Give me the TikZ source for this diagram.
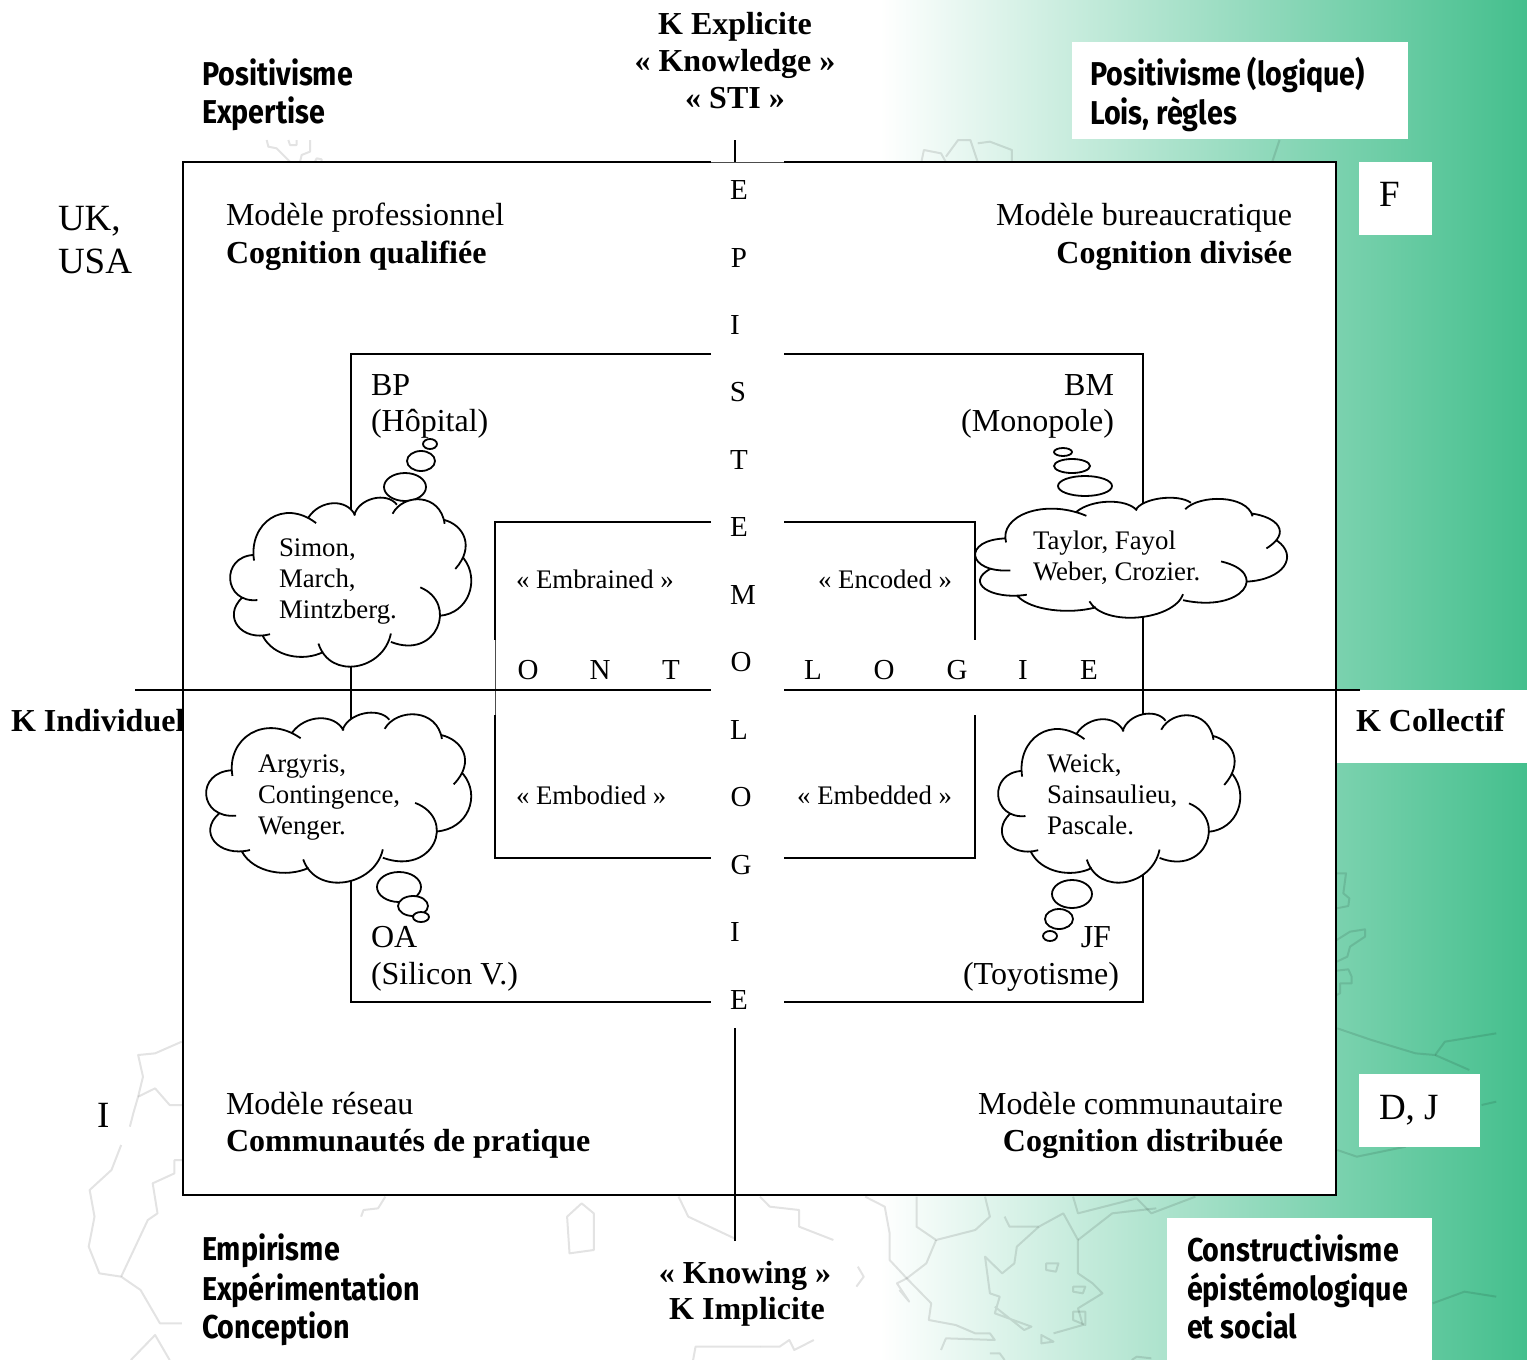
\documentclass[tikz,border=0pt]{standalone}
\usepackage{fontspec}
\setmainfont{Liberation Serif}
\newfontfamily\condfont[FakeStretch=0.87]{Fira Sans}
\definecolor{gfin}{RGB}{68,191,141}
\tikzset{
  x=1pt,y=-1pt,
  lbl/.style={inner sep=0pt,outer sep=0pt,anchor=base west,text=black},
  lblr/.style={lbl,anchor=base east},
  lblc/.style={lbl,anchor=base},
  big/.style={font=\fontsize{32}{36}\selectfont},
  bigb/.style={font=\fontsize{32}{36}\selectfont\bfseries},
  huge/.style={font=\fontsize{37}{40}\selectfont},
  smalltxt/.style={font=\fontsize{26.8}{30}\selectfont},
  sans/.style={font=\fontsize{33}{36}\selectfont\condfont\bfseries},
  lett/.style={lblc,font=\fontsize{29}{32}\selectfont},
  rule/.style={draw=black,line width=2pt},
  thinrule/.style={draw=black!70,line width=1pt},
  maplin/.style={draw=black,opacity=0.11,line width=2pt,line join=round},
  whitebox/.style={fill=white,draw=none},
  bubble/.style={draw=black,fill=white,line width=1.8pt},
}
\newcommand\clouddraw[4]{%
  \begin{scope}[shift={(#1,#2)},xscale=#3/725,yscale=#4/505,shift={(-150,-445)}]
    \fill[white] (222,625) -- (395,505) -- (523,495) -- (640,465) -- (793,516) -- (838,640) -- (778,797) -- (632,870) -- (422,890) -- (258,855) -- (187,745) -- cycle;
    \foreach \fil/\sty in {1/{fill=white},2/{draw=black,line width=1.8pt}}{
    \path[style/.expanded=\sty] (222,632) .. controls (205,520) and (310,445) .. (408,520)
      (385,503) .. controls (420,450) and (500,445) .. (525,497)
      (522,497) .. controls (535,445) and (620,425) .. (650,465)
      (637,492) .. controls (670,430) and (780,430) .. (793,522)
      (790,510) .. controls (850,525) and (885,590) .. (825,657)
      (850,625) .. controls (900,690) and (865,790) .. (778,797)
      (720,712) .. controls (835,760) and (770,930) .. (632,875)
      (632,850) .. controls (610,960) and (450,990) .. (415,880)
      (430,905) .. controls (370,935) and (280,920) .. (248,857)
      (270,852) .. controls (185,875) and (125,800) .. (187,742)
      (232,750) .. controls (130,760) and (120,620) .. (222,615);
    }
  \end{scope}}
\begin{document}
\begin{tikzpicture}
\useasboundingbox (0,0) rectangle (1527,1360);
% background
\shade[left color=white,right color=gfin,shading angle=90] (880,0) rectangle (1527,1360);
% map outlines
\begin{scope}[shift={(0,1000)},xscale=1/2.063,yscale=1/3]
  \draw[maplin] (375,125) -- (320,160) -- (285,165) -- (295,230) -- (285,290) -- (275,340) -- (268,380);
  \draw[maplin] (250,435) -- (230,510) -- (185,570) -- (195,650) -- (183,740) -- (205,820) -- (250,830) -- (290,870) -- (330,970) -- (375,970);
  \draw[maplin] (285,290) -- (320,265) -- (350,315) -- (375,315);
  \draw[maplin] (375,480) -- (360,480) -- (360,520) -- (315,550) -- (325,640) -- (305,660) -- (250,830);
  \draw[maplin] (270,1080) -- (320,1005) -- (350,1080);
  \draw[maplin] (795,590) -- (780,625) -- (750,630) -- (745,650);
  \draw[maplin] (1170,650) -- (1200,610) -- (1225,640) -- (1225,750) -- (1175,760) -- cycle;
  \draw[maplin] (1400,590) -- (1420,650) -- (1515,715);
  \draw[maplin] (1430,1080) -- (1435,1040) -- (1568,1040);
\end{scope}
\begin{scope}[shift={(760,1000)},xscale=1/2.044,yscale=1/3]
  \draw[maplin] (0,590) -- (20,620) -- (80,630) -- (80,680) -- (150,720);
  \draw[maplin] (200,800) -- (212,830) -- (197,860);
  \draw[maplin] (0,1040) -- (40,1040) -- (60,1020) -- (70,1050) -- (110,1020);
  \draw[maplin] (215,590) -- (255,620) -- (265,700) -- (265,780) -- (300,835) -- (350,910) -- (345,960) -- (400,975) -- (440,1000) -- (470,1000) -- (480,1020) -- (380,1015) -- (370,1050);
  \draw[maplin] (320,590) -- (320,680) -- (360,720) -- (440,690) -- (470,650) -- (460,590);
  \draw[maplin] (360,720) -- (340,790) -- (300,835) -- (280,850) -- (305,905) -- (285,870);
  \draw[maplin] (500,650) -- (510,680) -- (570,680) -- (620,640) -- (650,720) -- (650,820) -- (680,850) -- (700,880) -- (650,925) -- (660,975) -- (600,1000);
  \draw[maplin] (640,590) -- (650,640) -- (770,595) -- (800,640) -- (890,590);
  \draw[maplin] (650,720) -- (720,640) -- (810,625);
  \draw[maplin] (570,680) -- (525,740) -- (520,790) -- (495,820) -- (460,770) -- (470,880) -- (490,890) -- (480,940) -- (555,980) -- (540,990) -- (480,920);
  \draw[maplin] (585,790) -- (610,790) -- (605,815) -- (585,810) -- cycle;
  \draw[maplin] (640,860) -- (665,860) -- (660,880) -- (640,875) -- cycle;
  \draw[maplin] (640,935) -- (665,935) -- (665,975) -- (640,960) -- cycle;
  \draw[maplin] (575,1005) -- (600,1025) -- (575,1030) -- cycle;
  \draw[maplin] (470,1060) -- (490,1060) -- (500,1080);
  \draw[maplin] (760,1080) -- (770,1070) -- (800,1075);
  \draw[maplin] (1180,85) -- (1250,120) -- (1340,160) -- (1380,165) -- (1400,125) -- (1505,100);
  \draw[maplin] (1380,165) -- (1450,210);
  \draw[maplin] (1180,450) -- (1220,470) -- (1320,440);
  \draw[maplin] (1375,910) -- (1440,875) -- (1505,890);
  \draw[maplin] (1475,315) -- (1505,305);
\end{scope}
\begin{scope}[shift={(1330,760)},xscale=1/3,yscale=1/3]
  \draw[maplin] (20,340) -- (48,340) -- (40,400) -- (58,415) -- (55,438) -- (20,445);
  \draw[maplin] (20,540) -- (60,515) -- (105,508) -- (105,530) -- (60,560) -- (52,590) -- (20,605);
  \draw[maplin] (20,632) -- (55,628) -- (65,650) -- (65,670) -- (30,670) -- (30,700) -- (20,705);
\end{scope}
\begin{scope}[shift={(760,0)},xscale=1/2.044,yscale=1/3]
  \draw[maplin] (330,486) -- (335,450) -- (370,460) -- (380,486);
  \draw[maplin] (380,470) -- (405,420) -- (430,420) -- (445,486);
  \draw[maplin] (445,430) -- (470,425) -- (515,450) -- (515,486);
  \draw[maplin] (1047,486) -- (1062,420);
\end{scope}
\begin{scope}[shift={(240,130)},xscale=1/3,yscale=1/3]
  \draw[maplin] (80,30) -- (85,50) -- (110,55) -- (130,75) -- (150,95);
  \draw[maplin] (145,30) -- (150,45) -- (170,45) -- (170,30);
  \draw[maplin] (210,30) -- (210,65) -- (185,75) -- (180,95);
  \draw[maplin] (225,95) -- (230,85) -- (245,88) -- (245,95);
\end{scope}
% white boxes
\fill[white] (183,162) rectangle (1336,1195);
\fill[whitebox] (1072,42) rectangle (1408,139);
\fill[whitebox] (1359,162) rectangle (1432,235);
\fill[whitebox] (1337,690) rectangle (1527,763);
\fill[whitebox] (1359,1074) rectangle (1480,1147);
\fill[whitebox] (1167,1218) rectangle (1432,1360);
% frames
\draw[rule] (711,162) -- (183,162) -- (183,1195) -- (1336,1195) -- (1336,162) -- (784,162);
\draw[thinrule] (711,162) -- (784,162);
\draw[rule] (711,354) -- (351,354) -- (351,1002) -- (711,1002);
\draw[rule] (784,354) -- (1143,354) -- (1143,1002) -- (784,1002);
\draw[rule] (711,522) -- (495,522) -- (495,640);
\draw[thinrule] (495,640) -- (495,715);
\draw[rule] (495,715) -- (495,858) -- (711,858);
\draw[rule] (784,522) -- (975,522) -- (975,640);
\draw[rule] (975,715) -- (975,858) -- (784,858);
% axes
\coordinate (axT) at (735,140);
\coordinate (axTe) at (735,162);
\coordinate (axB) at (735,1241);
\coordinate (axBe) at (735,1028);
\coordinate (axL) at (135,690);
\coordinate (axLe) at (711,690);
\coordinate (axR) at (1360,690);
\coordinate (axRe) at (784,690);
\draw[rule] (axT) -- (axTe);
\draw[rule] (axB) -- (axBe);
\draw[rule] (axL) -- (axLe);
\draw[rule] (axR) -- (axRe);
% thought bubbles
\foreach \cx/\cy/\rx/\ry in {405/487/21/14,421/461/14/10,430/444/7/5,
  1085/486/27/10,1072/466/18/7,1063/452/9/4,
  399/887/22/15,413/906/15/10,421/917/8/5,
  1072/894/20/14,1059/919/14/10,1050/936/7/5}
  \draw[bubble] (\cx,\cy) ellipse [x radius=\rx,y radius=\ry];
% clouds
\clouddraw{230}{498}{242}{169}
\clouddraw{975}{498}{313}{120}
\clouddraw{206}{713}{266}{170}
\clouddraw{998}{714}{243}{169}
% top and bottom headers
\node[lblc,bigb] (ke1) at (735,34) {K Explicite};
\node[lblc,bigb] (ke2) at (735,71) {« Knowledge »};
\node[lblc,bigb] (ke3) at (735,108) {« STI »};
\node[lblc,bigb] (ki1) at (745,1283) {« Knowing »};
\node[lblc,bigb] (ki2) at (747,1319) {K Implicite};
\node[lbl,bigb] (kind) at (11,731) {K Individuel};
\node[lbl,bigb] (kcol) at (1356,731) {K Collectif};
% sans labels
\node[lbl,sans] (s1) at (202,85) {Positivisme};
\node[lbl,sans] (s2) at (202,123) {Expertise};
\node[lbl,sans] (s3) at (1090,85) {Positivisme (logique)};
\node[lbl,sans] (s4) at (1090,124) {Lois, règles};
\node[lbl,sans] (s5) at (202,1260) {Empirisme};
\node[lbl,sans] (s6) at (202,1300) {Expérimentation};
\node[lbl,sans] (s7) at (202,1338) {Conception};
\node[lbl,sans] (s8) at (1187,1261) {Constructivisme};
\node[lbl,sans] (s9) at (1187,1300) {épistémologique};
\node[lbl,sans] (s10) at (1187,1338) {et social};
% side letters
\node[lbl,huge] (uk) at (58,230) {UK,};
\node[lbl,huge] (usa) at (58,273) {USA};
\node[lbl,huge] (fr) at (1379,206) {F};
\node[lbl,huge] (dj) at (1379,1119) {D, J};
\node[lbl,huge] (it) at (97,1127) {I};
% models
\node[lbl,big] (m1) at (226,225) {Modèle professionnel};
\node[lbl,bigb] (m1b) at (226,263) {Cognition qualifiée};
\node[lblr,big] (m2) at (1292,225) {Modèle bureaucratique};
\node[lblr,bigb] (m2b) at (1292,263) {Cognition divisée};
\node[lbl,big] (m3) at (226,1114) {Modèle réseau};
\node[lbl,bigb] (m3b) at (226,1151) {Communautés de pratique};
\node[lblr,big] (m4) at (1283,1114) {Modèle communautaire};
\node[lblr,bigb] (m4b) at (1283,1151) {Cognition distribuée};
% quadrants
\node[lbl,big] (bp) at (371,395) {BP};
\node[lbl,big] (bp2) at (371,431) {(Hôpital)};
\node[lblr,big] (bm) at (1114,395) {BM};
\node[lblr,big] (bm2) at (1114,431) {(Monopole)};
\node[lbl,big] (oa) at (371,947) {OA};
\node[lbl,big] (oa2) at (371,984) {(Silicon V.)};
\node[lblr,big] (jf) at (1111,947) {JF};
\node[lblr,big] (jf2) at (1119,984) {(Toyotisme)};
% cloud text
\node[lbl,smalltxt] (c1a) at (279,556) {Simon,};
\node[lbl,smalltxt] (c1b) at (279,587) {March,};
\node[lbl,smalltxt] (c1c) at (279,618) {Mintzberg.};
\node[lbl,smalltxt] (c2a) at (1033,549) {Taylor, Fayol};
\node[lbl,smalltxt] (c2b) at (1033,580) {Weber, Crozier.};
\node[lbl,smalltxt] (c3a) at (258,772) {Argyris,};
\node[lbl,smalltxt] (c3b) at (258,803) {Contingence,};
\node[lbl,smalltxt] (c3c) at (258,834) {Wenger.};
\node[lbl,smalltxt] (c4a) at (1047,772) {Weick,};
\node[lbl,smalltxt] (c4b) at (1047,803) {Sainsaulieu,};
\node[lbl,smalltxt] (c4c) at (1047,834) {Pascale.};
% K-forms
\node[lbl,smalltxt] (k1) at (516,588) {« Embrained »};
\node[lblr,smalltxt] (k2) at (952,588) {« Encoded »};
\node[lbl,smalltxt] (k3) at (516,804) {« Embodied »};
\node[lblr,smalltxt] (k4) at (952,804) {« Embedded »};
% EPISTEMOLOGIE
\foreach \n/\l/\cx/\by in {a/E/739/199,b/P/739/267,c/I/735/334,d/S/738/401,e/T/739/469,f/E/739/536,g/M/743/604,h/O/741/671,i/L/739/739,j/O/741/806,k/G/741/874,l/I/735/941,m/E/739/1009}
  \node[lett] (ep\n) at (\cx,\by) {\l};
% ONTOLOGIE
\foreach \n/\l/\cx in {a/O/528,b/N/600,c/T/671,d/L/813,e/O/884,f/G/957,g/I/1023,h/E/1089}
  \node[lett] (on\n) at (\cx,679) {\l};
\end{tikzpicture}
\end{document}
